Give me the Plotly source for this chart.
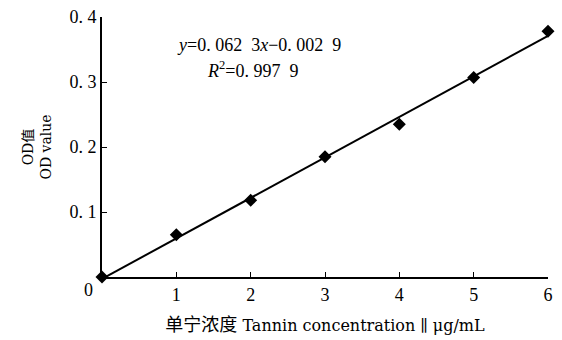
import plotly.graph_objects as go

conc = [0, 1, 2, 3, 4, 5, 6]
od = [0.0, 0.065, 0.118, 0.185, 0.235, 0.307, 0.378]
slope = 0.0623
intercept = -0.0029
fit_x = [0, 6]
fit_y = [slope * v + intercept for v in fit_x]

x_ticks = [1, 2, 3, 4, 5, 6]
y_ticks = [0.1, 0.2, 0.3, 0.4]
y_ticktext = ["0. 1", "0. 2", "0. 3", "0. 4"]

serif = "Liberation Serif, Noto Sans CJK SC, serif"
wide = "DejaVu Serif, Noto Sans CJK SC, serif"

fig = go.Figure()
fig.add_trace(go.Scatter(x=fit_x, y=fit_y, mode="lines",
                         line=dict(color="black", width=2), showlegend=False))
fig.add_trace(go.Scatter(x=conc, y=od, mode="markers",
                         marker=dict(symbol="diamond", size=10, color="black"),
                         showlegend=False, cliponaxis=False))

fig.update_layout(
    width=562, height=340,
    margin=dict(l=102, r=14, t=17, b=63),
    plot_bgcolor="white", paper_bgcolor="white",
    font=dict(family=serif, color="black", size=18),
    xaxis=dict(range=[0, 6], tickvals=x_ticks, ticks="inside", ticklen=5,
               tickcolor="black", showline=True, linecolor="black", linewidth=2,
               showgrid=False, zeroline=False, automargin=False,
               title=dict(text="<span style='font-size:18px'>单宁浓度</span> Tannin concentration ∥ μg/mL",
                          font=dict(size=16, family=wide), standoff=16)),
    yaxis=dict(range=[0, 0.4], tickvals=y_ticks, ticktext=y_ticktext,
               ticks="inside", ticklen=5,
               tickcolor="black", showline=True, linecolor="black", linewidth=2,
               showgrid=False, zeroline=False, automargin=False,
               title=dict(text="OD值<br>OD value", font=dict(size=14, family=wide, color="black"),
                          standoff=14)),
)

fig.add_annotation(x=0, y=0, xref="x", yref="y", text="0", showarrow=False,
                   xshift=-14, yshift=-13, font=dict(size=18))
fig.add_annotation(x=0.164, y=0.357, xref="paper", yref="y", xanchor="left",
                   text="<i>y</i>=0. 062  3<i>x</i>−0. 002  9", showarrow=False,
                   font=dict(size=18))
fig.add_annotation(x=0.231, y=0.320, xref="paper", yref="y", xanchor="left",
                   text="<i>R</i><sup>2</sup>=0. 997  9", showarrow=False,
                   font=dict(size=18))

fig.write_html("out.html", config={"displayModeBar": False},
               post_script="document.body.style.margin='0';")
